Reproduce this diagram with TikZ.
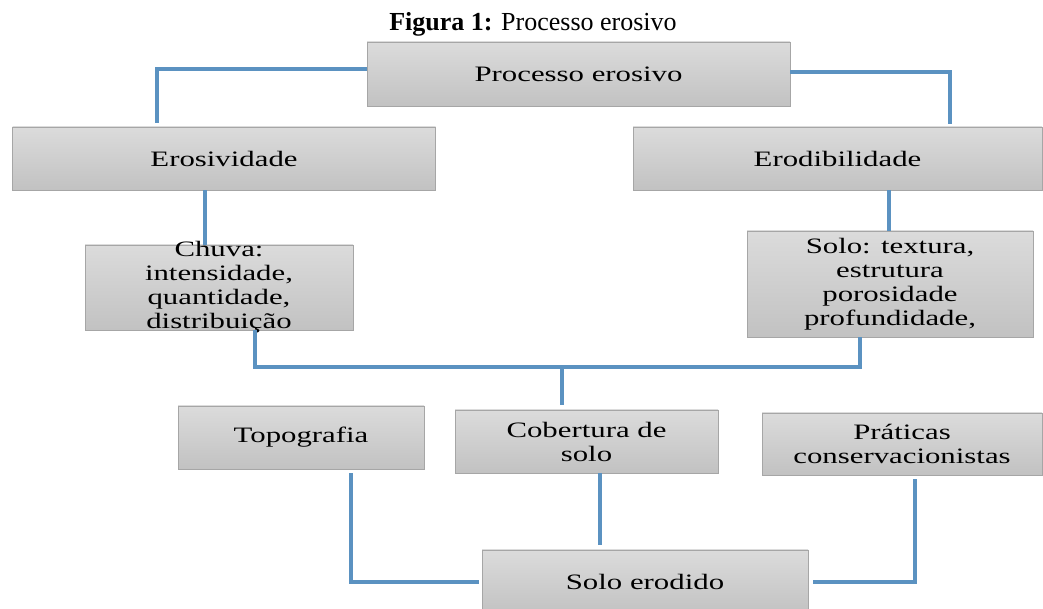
\documentclass[tikz,border=0pt]{standalone}
\usepackage{fontspec}
\setmainfont{Liberation Serif}
\newfontfamily\boxfont{Liberation Serif}[FakeStretch=1.4]
\definecolor{linkblue}{RGB}{91,146,193}
\begin{document}
\begin{tikzpicture}[x=1pt,y=1pt,
  box/.style={draw=gray!70, top color=gray!28, bottom color=gray!48, inner sep=0pt, align=center, font=\boxfont\fontsize{22}{24}\selectfont},
  link/.style={draw=linkblue, line width=3.5pt}]
\useasboundingbox (0,0) rectangle (1043,609);
\clip (0,0) rectangle (1043,609);
\node[anchor=base] (title) at (533,578) {\fontsize{26}{28}\selectfont\textbf{Figura 1:} Processo erosivo};
% boxes
\node[box, minimum width=423, minimum height=64] (proc) at (578.5,535) {Processo erosivo};
\node[box, minimum width=423, minimum height=63] (erosiv) at (224,450.5) {Erosividade};
\node[box, minimum width=409, minimum height=63] (erodib) at (837.5,450.5) {Erodibilidade};
\node[box, minimum width=268, minimum height=85, inner ysep=-6pt] (chuva) at (219,321.5) {Chuva:\\intensidade,\\quantidade,\\distribuição};
\node[box, minimum width=286, minimum height=106] (solo) at (890,325) {Solo: textura,\\estrutura\\porosidade\\profundidade,};
\node[box, minimum width=246, minimum height=63] (topo) at (301,171.5) {Topografia};
\node[box, minimum width=263, minimum height=63] (cob) at (586.5,167.5) {Cobertura de\\solo};
\node[box, minimum width=280, minimum height=62] (prat) at (902,165) {Práticas\\conservacionistas};
\node[box, minimum width=326, minimum height=64] (erod) at (645,27) {Solo erodido};
\coordinate (junc) at (562,242);
% connectors
\draw[link] ([yshift=5pt]proc.west) -| ([xshift=-67pt,yshift=4pt]erosiv.north);
\draw[link] ([yshift=2pt]proc.east) -| ([xshift=112.5pt,yshift=3pt]erodib.north);
\draw[link] ([xshift=-19pt]erosiv.south) -- ([xshift=-14pt]chuva.north);
\draw[link] ([xshift=51.5pt]erodib.south) -- ([xshift=-1pt]solo.north);
\draw[link] ([xshift=36pt]chuva.south) |- (junc) -| ([xshift=-30pt]solo.south);
\draw[link] (junc) -- ([xshift=-24.5pt,yshift=5pt]cob.north);
\draw[link] ([xshift=50pt,yshift=-4pt]topo.south) |- ([xshift=-3pt]erod.west);
\draw[link] ([xshift=13.5pt]cob.south) -- ([xshift=-45pt,yshift=5pt]erod.north);
\draw[link] ([xshift=13pt,yshift=-4pt]prat.south) |- ([xshift=5pt]erod.east);
\end{tikzpicture}
\end{document}
